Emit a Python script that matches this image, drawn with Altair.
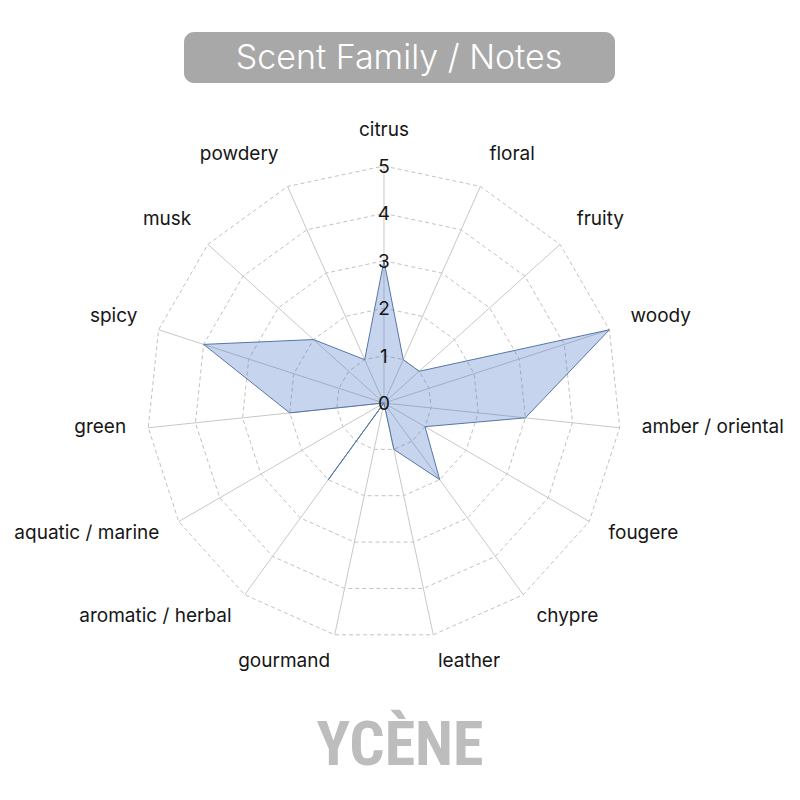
import altair as alt
import pandas as pd

categories = ["citrus", "floral", "fruity", "woody", "amber / oriental", "fougere",
              "chypre", "leather", "gourmand", "aromatic / herbal", "aquatic / marine",
              "green", "spicy", "musk", "powdery"]
values = [3, 1, 1, 5, 3, 1, 2, 1, 0, 2, 0, 2, 4, 2, 1]
ring_levels = [1, 2, 3, 4, 5]
tick_values = [0, 1, 2, 3, 4, 5]
title_text = "Scent Family / Notes"
brand_text = "YCÈNE"

N = len(categories)
MAXV = max(ring_levels)
LRX = 5.47
LRY = 5.66
LDY = 0.09

W = H = 784
xs = alt.Scale(domain=[-7.932, 8.608], nice=False, zero=False)
ys = alt.Scale(domain=[-8.207, 8.333], nice=False, zero=False)

df = pd.DataFrame({"category": categories, "value": values, "idx": list(range(N))})
grid = pd.DataFrame([{"level": l, "idx": i} for l in ring_levels for i in range(N)])
ticks = pd.DataFrame({"tick": tick_values, "label": [str(t) for t in tick_values]})
deco = pd.DataFrame({"title": [title_text], "brand": [brand_text]})

ang = f"datum.idx * 2 * PI / {N}"
FONT = "Inter"
TXT = "#161616"

rings = alt.Chart(grid).transform_calculate(a=ang).transform_calculate(
    x="datum.level * sin(datum.a)", y="datum.level * cos(datum.a)"
).mark_line(interpolate="linear-closed", stroke="#c2c2c2", strokeWidth=1,
            strokeDash=[4, 3]).encode(
    x=alt.X("x:Q", scale=xs, axis=None),
    y=alt.Y("y:Q", scale=ys, axis=None),
    detail="level:N",
    order="idx:Q",
)

spokes = alt.Chart(df).transform_calculate(a=ang).transform_calculate(
    x0="0", y0="0", x1=f"{MAXV} * sin(datum.a)", y1=f"{MAXV} * cos(datum.a)"
).mark_rule(stroke="#c8c8c8", strokeWidth=1).encode(
    x=alt.X("x0:Q", scale=xs, axis=None),
    y=alt.Y("y0:Q", scale=ys, axis=None),
    x2="x1:Q", y2="y1:Q",
)

poly = alt.Chart(df).transform_calculate(a=ang).transform_calculate(
    x="datum.value * sin(datum.a)", y="datum.value * cos(datum.a)"
).mark_line(interpolate="linear-closed", fill="#4472c4", fillOpacity=0.3,
            stroke="#5577a8", strokeWidth=1).encode(
    x=alt.X("x:Q", scale=xs, axis=None),
    y=alt.Y("y:Q", scale=ys, axis=None),
    order="idx:Q",
)

tick_text = alt.Chart(ticks).transform_calculate(x0="0").mark_text(
    fontSize=19, color=TXT, font=FONT, dy=1
).encode(
    x=alt.X("x0:Q", scale=xs, axis=None),
    y=alt.Y("tick:Q", scale=ys, axis=None),
    text="label:N",
)

lab_base = alt.Chart(df).transform_calculate(a=ang).transform_calculate(
    lx=f"{LRX} * sin(datum.a)", ly=f"{LRY} * cos(datum.a) + {LDY}", s="sin(datum.a)"
)
lab_enc = dict(
    x=alt.X("lx:Q", scale=xs, axis=None),
    y=alt.Y("ly:Q", scale=ys, axis=None),
    text="category:N",
)
lab_style = dict(baseline="middle", fontSize=19, color=TXT, font=FONT)
lab_right = lab_base.transform_filter("datum.s > 0.05").mark_text(
    align="left", **lab_style).encode(**lab_enc)
lab_left = lab_base.transform_filter("datum.s < -0.05").mark_text(
    align="right", **lab_style).encode(**lab_enc)
lab_center = lab_base.transform_filter("abs(datum.s) <= 0.05").mark_text(
    align="center", **lab_style).encode(**lab_enc)

title_box = alt.Chart(deco).mark_rect(color="#a8a8a8", cornerRadius=10).encode(
    x=alt.value(176), x2=alt.value(607), y=alt.value(24), y2=alt.value(75)
)
title_txt = alt.Chart(deco).mark_text(
    fontSize=34, color="white", font=FONT, fontWeight=300, baseline="middle"
).encode(x=alt.value(391), y=alt.value(51), text="title:N")

brand = alt.Chart(deco).mark_text(
    fontSize=62, color="#bdbdbd",
    font="'Roboto Condensed', 'Noto Sans Condensed', 'Open Sans Condensed', 'DejaVu Sans Condensed'",
    fontWeight="bold", baseline="alphabetic"
).encode(x=alt.value(392), y=alt.value(757), text="brand:N")

chart = alt.layer(
    rings, spokes, poly, tick_text, lab_right, lab_left, lab_center,
    title_box, title_txt, brand
).properties(width=W, height=H, padding=0).configure_view(stroke=None)

chart.save("out.html", embed_options={"renderer": "svg", "actions": False})
